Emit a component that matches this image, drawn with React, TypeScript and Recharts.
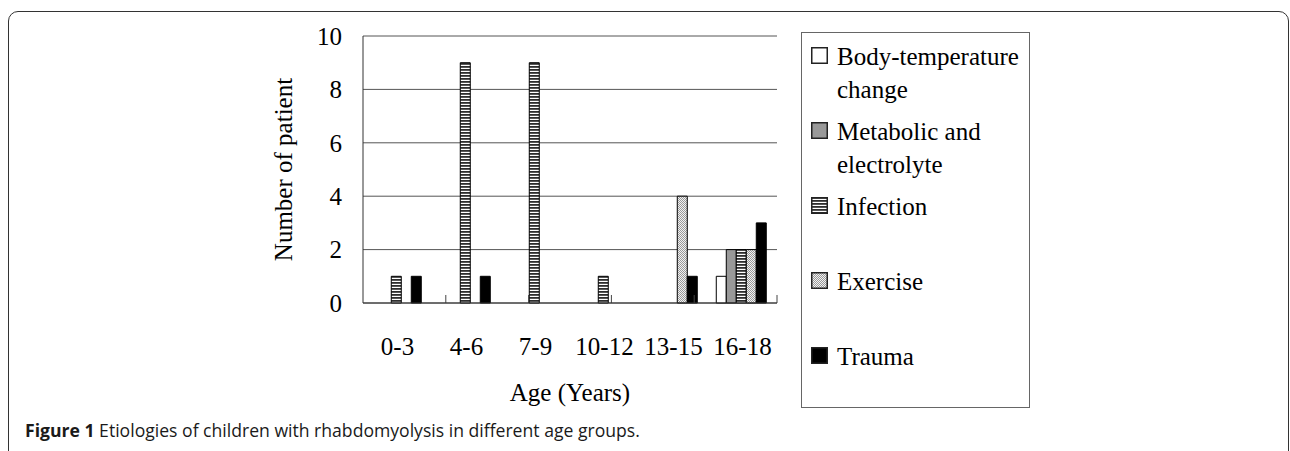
import React from 'react';
import { BarChart, Bar, XAxis, YAxis, CartesianGrid, Legend, Label, ReferenceLine } from 'recharts';

const categories = ['0-3', '4-6', '7-9', '10-12', '13-15', '16-18'];
const bodyTemperature = [0, 0, 0, 0, 0, 1];
const metabolic = [0, 0, 0, 0, 0, 2];
const infection = [1, 9, 9, 1, 0, 2];
const exercise = [0, 0, 0, 0, 4, 2];
const trauma = [1, 1, 0, 0, 1, 3];
const yTicks = [0, 2, 4, 6, 8, 10];
const boundaryTicks = [1, 2, 3, 4, 5];

const series = [
  { key: 'body', name: 'Body-temperature change', fill: '#ffffff' },
  { key: 'metabolic', name: 'Metabolic and electrolyte', fill: '#999999' },
  { key: 'infection', name: 'Infection', fill: 'url(#patInfection)' },
  { key: 'exercise', name: 'Exercise', fill: 'url(#patExercise)' },
  { key: 'trauma', name: 'Trauma', fill: '#000000' },
];

const data = categories.map((age, i) => ({
  age,
  body: bodyTemperature[i],
  metabolic: metabolic[i],
  infection: infection[i],
  exercise: exercise[i],
  trauma: trauma[i],
}));

const SERIF = "'Liberation Serif', 'Times New Roman', serif";
const FS = 25;
const TICK_LEN = 0.3;

const LegendBox = () => (
  <div
    style={{
      width: 229,
      height: 376,
      boxSizing: 'border-box',
      border: '1px solid #666',
      paddingTop: 7,
      fontFamily: SERIF,
      fontSize: FS,
      color: '#000',
      background: '#fff',
    }}
  >
    {series.map((s) => (
      <div key={s.key} style={{ position: 'relative', height: 75, fontFamily: SERIF }}>
        <svg width={17} height={17} style={{ position: 'absolute', left: 9, top: 7 }}>
          <rect x={0.75} y={0.75} width={15.5} height={15.5} fill={s.fill} stroke="#222" strokeWidth={1.5} />
        </svg>
        <div
          style={{
            position: 'absolute',
            left: 35,
            top: 0,
            width: 190,
            lineHeight: '33px',
            whiteSpace: 'normal',
            fontFamily: SERIF,
            fontSize: FS,
          }}
        >
          {s.name}
        </div>
      </div>
    ))}
  </div>
);

const YLabel = (props: any) => {
  const vb = props.viewBox || { x: 0, y: 36, width: 363, height: 267 };
  const x = vb.x + vb.width - 80;
  const y = vb.y + vb.height / 2;
  return (
    <text
      x={x}
      y={y}
      transform={`rotate(-90, ${x}, ${y})`}
      textAnchor="middle"
      dominantBaseline="central"
      fontFamily={SERIF}
      fontSize={FS}
      fill="#000"
    >
      Number of patient
    </text>
  );
};

export default function App() {
  return (
    <div style={{ position: 'absolute', left: 0, top: 0, width: 1290, height: 451, overflow: 'hidden', background: '#fff' }}>
      <div
        style={{
          position: 'absolute',
          left: 8,
          top: 11,
          width: 1281,
          height: 520,
          boxSizing: 'border-box',
          border: '1.5px solid #333',
          borderRadius: 10,
        }}
      />
      <div style={{ position: 'absolute', left: 0, top: 0 }}>
        <BarChart
          width={1050}
          height={411}
          data={data}
          margin={{ top: 36, right: 273, left: 0, bottom: 0 }}
          barCategoryGap="12%"
          barGap={0}
        >
          <defs>
            <pattern id="patInfection" patternUnits="userSpaceOnUse" width={4} height={3}>
              <rect x={0} y={0} width={4} height={3} fill="#ffffff" />
              <rect x={0} y={0} width={4} height={1.8} fill="#2e2e2e" />
            </pattern>
            <pattern id="patExercise" patternUnits="userSpaceOnUse" width={2} height={2}>
              <rect x={0} y={0} width={2} height={2} fill="#f2f2f2" />
              <rect x={0} y={0} width={1} height={1} fill="#999999" />
              <rect x={1} y={1} width={1} height={1} fill="#999999" />
            </pattern>
          </defs>
          <CartesianGrid xAxisId="cat" vertical={false} stroke="#555" strokeWidth={1} />
          <XAxis
            xAxisId="cat"
            dataKey="age"
            interval={0}
            height={108}
            tickLine={false}
            tickSize={0}
            tickMargin={34}
            axisLine={{ stroke: '#333' }}
            tick={{ fontFamily: SERIF, fontSize: FS, fill: '#000' }}
          >
            <Label value="Age (Years)" position="insideBottom" offset={10} fontFamily={SERIF} fontSize={FS} fill="#000" />
          </XAxis>
          <XAxis xAxisId="grid" type="number" domain={[0, 6]} allowDataOverflow hide height={0} />
          <YAxis
            domain={[0, 10]}
            ticks={yTicks}
            interval={0}
            width={363}
            tickLine={false}
            tickSize={0}
            tickMargin={21}
            axisLine={{ stroke: '#333' }}
            tick={{ fontFamily: SERIF, fontSize: FS, fill: '#000' }}
          >
            <Label content={<YLabel />} />
          </YAxis>
          <ReferenceLine xAxisId="grid" x={6} stroke="#555" strokeWidth={1} />
          {boundaryTicks.map((b) => (
            <ReferenceLine
              key={`bt${b}`}
              xAxisId="grid"
              segment={[{ x: b, y: 0 }, { x: b, y: TICK_LEN }]}
              stroke="#444"
              strokeWidth={1}
            />
          ))}
          {series.map((s) => (
            <Bar
              key={s.key}
              xAxisId="cat"
              dataKey={s.key}
              name={s.name}
              fill={s.fill}
              stroke="#000"
              strokeWidth={1}
              isAnimationActive={false}
            />
          ))}
          <Legend
            layout="vertical"
            align="center"
            verticalAlign="middle"
            wrapperStyle={{ position: 'absolute', left: 801, top: 32, width: 229, height: 376 }}
            content={() => <LegendBox />}
          />
        </BarChart>
      </div>
      <div
        style={{
          position: 'absolute',
          left: 25,
          top: 418,
          fontFamily: '"Open Sans", "Noto Sans", sans-serif',
          fontSize: 17.6,
          color: '#1a1a1a',
          whiteSpace: 'nowrap',
        }}
      >
        <b>Figure 1</b> Etiologies of children with rhabdomyolysis in different age groups.
      </div>
    </div>
  );
}
